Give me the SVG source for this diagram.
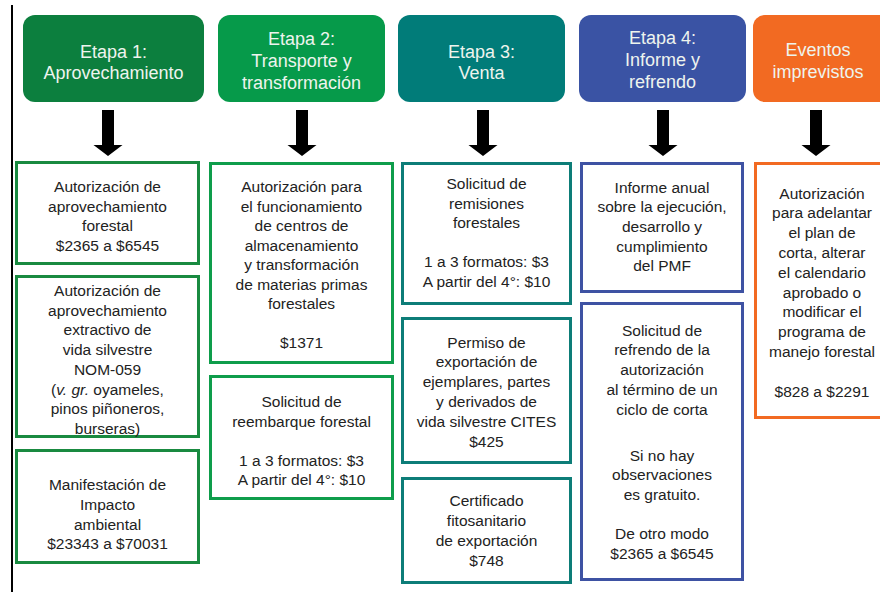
<svg xmlns="http://www.w3.org/2000/svg" xmlns:xlink="http://www.w3.org/1999/xlink" width="880" height="592" viewBox="0 0 880 592">
<style>
.h{font-family:"Liberation Sans",Arial,sans-serif;font-size:18px;fill:#eef4ee;text-anchor:middle}
.t{font-family:"Liberation Sans",Arial,sans-serif;font-size:15.5px;fill:#222;text-anchor:middle}
.b{fill:#fff;stroke-width:3}
.g1{stroke:#198a40}.g2{stroke:#0e9d4b}.tl{stroke:#0d7d78}.bl{stroke:#3e52a3}.or{stroke:#f26a22}
</style>
<defs>
<path id="arr" d="M-6,110 H6 V145 H14.5 L0,156 L-14.5,145 H-6 Z" fill="#000"/>
</defs>
<rect width="880" height="592" fill="#fff"/>
<line x1="12" y1="5" x2="12" y2="592" stroke="#000" stroke-width="2"/>

<g id="h1"><rect x="23" y="15" width="181" height="87" rx="12" fill="#0c7f3e"/>
<text class="h" x="113.5" y="58">Etapa 1:</text><text class="h" x="113.5" y="79">Aprovechamiento</text></g>
<g id="h2"><rect x="218" y="15" width="167" height="87" rx="12" fill="#069a4a"/>
<text class="h" x="301.5" y="45">Etapa 2:</text><text class="h" x="301.5" y="67">Transporte y</text><text class="h" x="301.5" y="89">transformación</text></g>
<g id="h3"><rect x="398" y="15" width="167" height="87" rx="12" fill="#017c79"/>
<text class="h" x="481.5" y="58">Etapa 3:</text><text class="h" x="481.5" y="79">Venta</text></g>
<g id="h4"><rect x="579" y="15" width="167" height="87" rx="12" fill="#3a53a4"/>
<text class="h" x="662.5" y="44">Etapa 4:</text><text class="h" x="662.5" y="66">Informe y</text><text class="h" x="662.5" y="88">refrendo</text></g>
<g id="h5"><rect x="753" y="15" width="140" height="87" rx="12" fill="#f26a22"/>
<text class="h" x="818" y="56">Eventos</text><text class="h" x="818" y="78">imprevistos</text></g>

<g id="connectors">
<use xlink:href="#arr" x="108"/>
<use xlink:href="#arr" x="302"/>
<use xlink:href="#arr" x="483"/>
<use xlink:href="#arr" x="663"/>
<use xlink:href="#arr" x="816"/>
</g>

<g id="c1a"><rect class="b g1" x="16.5" y="162.5" width="182" height="101"/>
<text class="t" x="107.5" y="192">Autorización de</text><text class="t" x="107.5" y="211.5">aprovechamiento</text><text class="t" x="107.5" y="231">forestal</text><text class="t" x="107.5" y="250.5">$2365 a $6545</text></g>
<g id="c1b"><rect class="b g1" x="16.5" y="276.5" width="182" height="160"/>
<text class="t" x="107.5" y="296">Autorización de</text><text class="t" x="107.5" y="315.7">aprovechamiento</text><text class="t" x="107.5" y="335.4">extractivo de</text><text class="t" x="107.5" y="355.1">vida silvestre</text><text class="t" x="107.5" y="374.8">NOM-059</text><text class="t" x="107.5" y="394.5">(<tspan font-style="italic">v. gr.</tspan> oyameles,</text><text class="t" x="107.5" y="414.2">pinos piñoneros,</text><text class="t" x="107.5" y="433.5">burseras)</text></g>
<g id="c1c"><rect class="b g1" x="16.5" y="450.5" width="182" height="112"/>
<text class="t" x="107.5" y="490">Manifestación de</text><text class="t" x="107.5" y="510">Impacto</text><text class="t" x="107.5" y="530">ambiental</text><text class="t" x="107.5" y="549">$23343 a $70031</text></g>

<g id="c2a"><rect class="b g2" x="210.5" y="163.5" width="182" height="199"/>
<text class="t" x="301.5" y="192">Autorización para</text><text class="t" x="301.5" y="211.5">el funcionamiento</text><text class="t" x="301.5" y="231">de centros de</text><text class="t" x="301.5" y="250.5">almacenamiento</text><text class="t" x="301.5" y="270">y transformación</text><text class="t" x="301.5" y="289.5">de materias primas</text><text class="t" x="301.5" y="309">forestales</text><text class="t" x="301.5" y="348">$1371</text></g>
<g id="c2b"><rect class="b g2" x="210.5" y="376.5" width="182" height="122"/>
<text class="t" x="301.5" y="407">Solicitud de</text><text class="t" x="301.5" y="426.5">reembarque forestal</text><text class="t" x="301.5" y="465.5">1 a 3 formatos: $3</text><text class="t" x="301.5" y="485">A partir del 4°: $10</text></g>

<g id="c3a"><rect class="b tl" x="402.5" y="163.5" width="168" height="140"/>
<text class="t" x="486.5" y="189">Solicitud de</text><text class="t" x="486.5" y="208.5">remisiones</text><text class="t" x="486.5" y="228">forestales</text><text class="t" x="486.5" y="267">1 a 3 formatos: $3</text><text class="t" x="486.5" y="286.5">A partir del 4°: $10</text></g>
<g id="c3b"><rect class="b tl" x="402.5" y="318.5" width="168" height="144"/>
<text class="t" x="486.5" y="347.5">Permiso de</text><text class="t" x="486.5" y="367.3">exportación de</text><text class="t" x="486.5" y="387.1">ejemplares, partes</text><text class="t" x="486.5" y="406.9">y derivados de</text><text class="t" x="486.5" y="426.7">vida silvestre CITES</text><text class="t" x="486.5" y="446.5">$425</text></g>
<g id="c3c"><rect class="b tl" x="402.5" y="478.5" width="168" height="104"/>
<text class="t" x="486.5" y="505.5">Certificado</text><text class="t" x="486.5" y="525.5">fitosanitario</text><text class="t" x="486.5" y="545.5">de exportación</text><text class="t" x="486.5" y="565.5">$748</text></g>

<g id="c4a"><rect class="b bl" x="581.5" y="163.5" width="161" height="128"/>
<text class="t" x="662" y="192.5">Informe anual</text><text class="t" x="662" y="212.2">sobre la ejecución,</text><text class="t" x="662" y="231.9">desarrollo y</text><text class="t" x="662" y="251.6">cumplimiento</text><text class="t" x="662" y="271.3">del PMF</text></g>
<g id="c4b"><rect class="b bl" x="581.5" y="303.5" width="161" height="276"/>
<text class="t" x="662" y="335.5">Solicitud de</text><text class="t" x="662" y="355">refrendo de la</text><text class="t" x="662" y="375">autorización</text><text class="t" x="662" y="395">al término de un</text><text class="t" x="662" y="414.5">ciclo de corta</text><text class="t" x="662" y="460.5">Si no hay</text><text class="t" x="662" y="480">observaciones</text><text class="t" x="662" y="499.5">es gratuito.</text><text class="t" x="662" y="539">De otro modo</text><text class="t" x="662" y="558.5">$2365 a $6545</text></g>

<g id="c5"><rect class="b or" x="755.5" y="163.5" width="130" height="254"/>
<text class="t" x="822" y="198.5">Autorización</text><text class="t" x="822" y="218.3">para adelantar</text><text class="t" x="822" y="238.1">el plan de</text><text class="t" x="822" y="257.9">corta, alterar</text><text class="t" x="822" y="277.7">el calendario</text><text class="t" x="822" y="297.5">aprobado o</text><text class="t" x="822" y="317.3">modificar el</text><text class="t" x="822" y="337.1">programa de</text><text class="t" x="822" y="356.9">manejo forestal</text><text class="t" x="822" y="396.5">$828 a $2291</text></g>
</svg>
